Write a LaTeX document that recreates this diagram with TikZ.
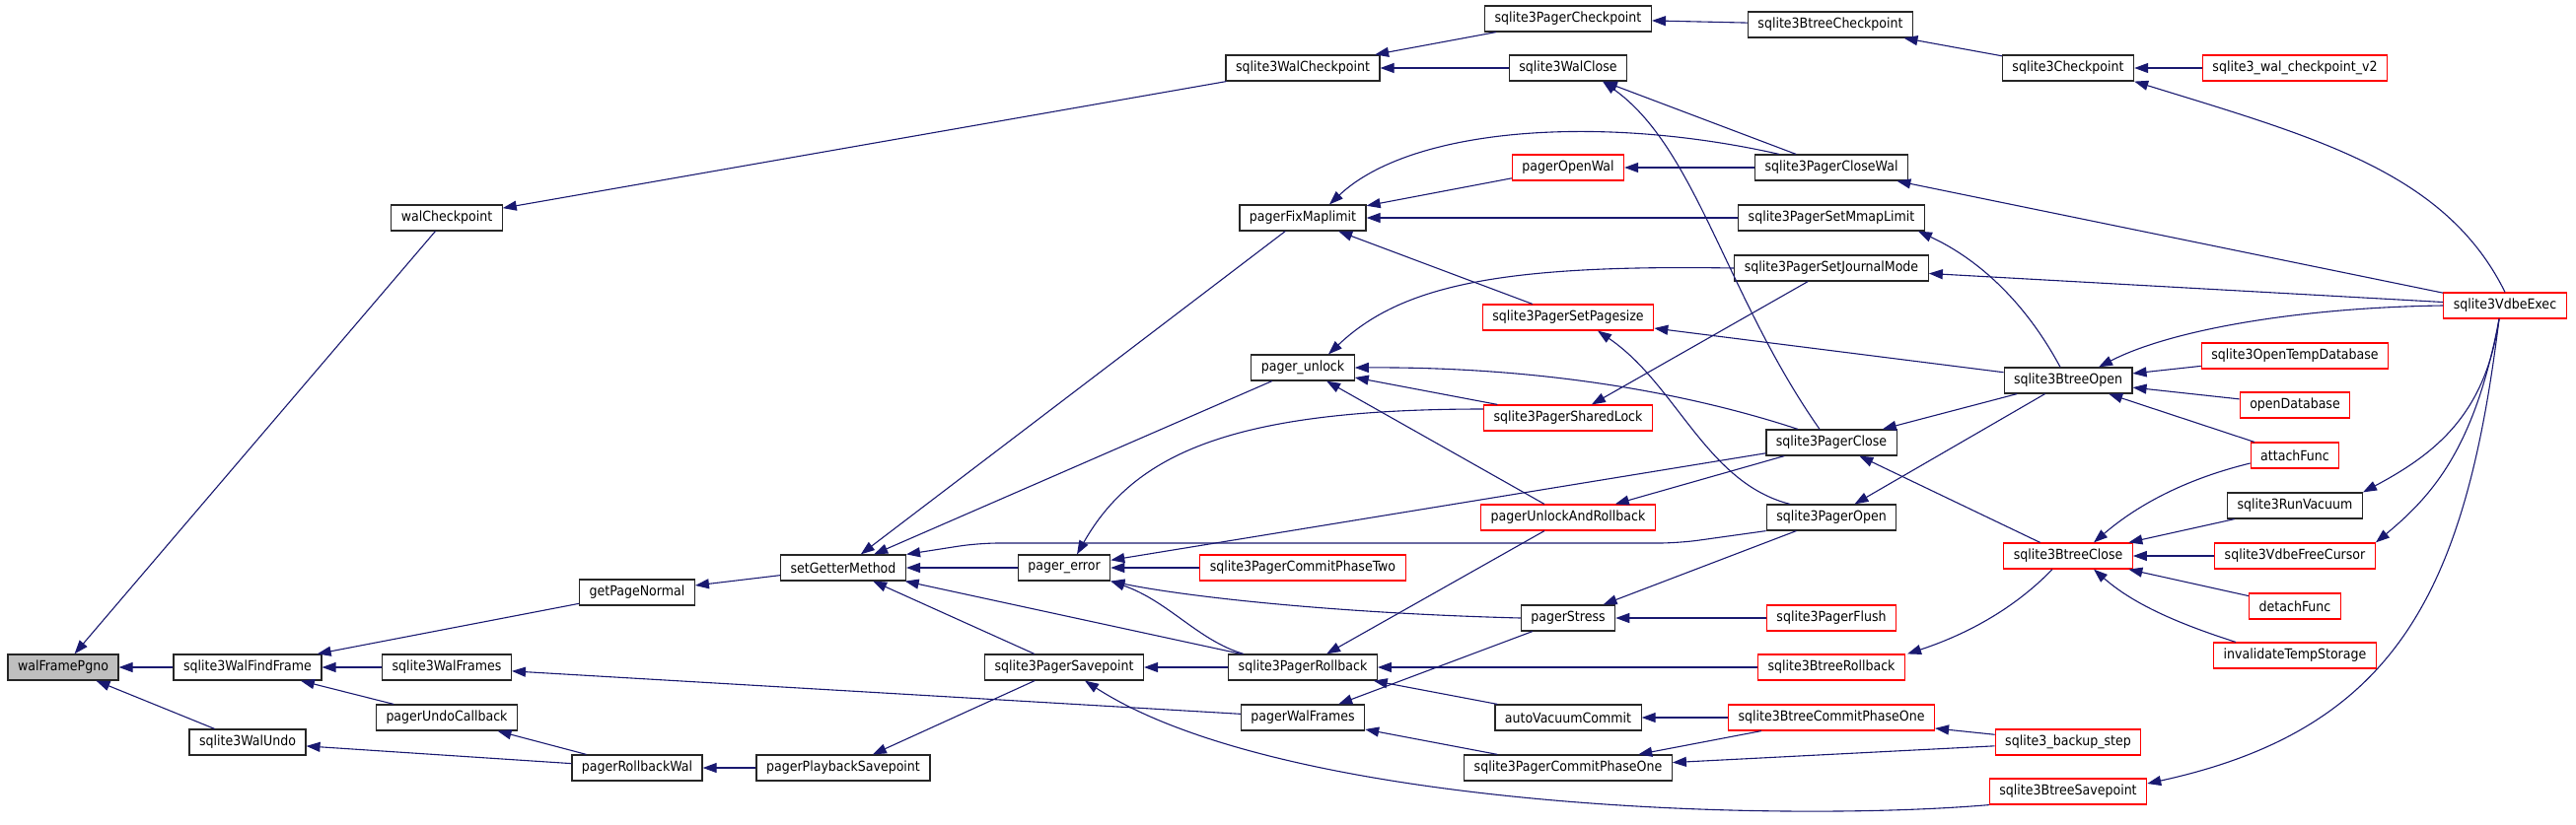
\documentclass[tikz,border=0pt]{standalone}
\usepackage{fontspec}
\setmainfont{DejaVu Sans Condensed}
\usetikzlibrary{arrows.meta}
\definecolor{edgeblue}{HTML}{191970}
\definecolor{cutred}{HTML}{FF0000}
\definecolor{focusgray}{HTML}{BFBFBF}
\newcommand{\fnfont}{\fontsize{14}{16}\selectfont}

\begin{document}
\begin{tikzpicture}[x=1pt, y=-1pt,
  fn/.style={draw=black!85, line width=1.2pt, fill=white, minimum height=26pt,
             inner xsep=10pt, inner ysep=0pt, font=\fnfont},
  cut/.style={fn, draw=cutred},
  call/.style={draw=edgeblue, line width=1.1pt, -{Triangle[length=14pt,width=10pt]}}]
\useasboundingbox (0,0) rectangle (2612,836);

% functions, column by column
\node[fn, fill=focusgray] (wfp) at (64,677) {walFramePgno};
\node[fn] (wff) at (251,677) {sqlite3WalFindFrame};
\node[fn] (wun) at (251,753) {sqlite3WalUndo};
\node[fn] (wcp) at (453,221) {walCheckpoint};
\node[fn] (wfr) at (453,677) {sqlite3WalFrames};
\node[fn] (puc) at (453,728) {pagerUndoCallback};
\node[fn] (gpn) at (646,601) {getPageNormal};
\node[fn] (prw) at (646,779) {pagerRollbackWal};
\node[fn] (sgm) at (855,576) {setGetterMethod};
\node[fn] (pps) at (855,779) {pagerPlaybackSavepoint};
\node[fn] (per) at (1079,576) {pager\_error};
\node[fn] (psv) at (1079,677) {sqlite3PagerSavepoint};
\node[fn] (swc) at (1321,69) {sqlite3WalCheckpoint};
\node[fn] (pfm) at (1321,221) {pagerFixMaplimit};
\node[fn] (pul) at (1321,373) {pager\_unlock};
\node[cut] (cp2) at (1321,576) {sqlite3PagerCommitPhaseTwo};
\node[fn] (prb) at (1321,677) {sqlite3PagerRollback};
\node[fn] (pwf) at (1321,728) {pagerWalFrames};
\node[fn] (pck) at (1590,19) {sqlite3PagerCheckpoint};
\node[fn] (wcl) at (1590,69) {sqlite3WalClose};
\node[cut] (pow) at (1590,170) {pagerOpenWal};
\node[cut] (sps) at (1590,322) {sqlite3PagerSetPagesize};
\node[cut] (psl) at (1590,424) {sqlite3PagerSharedLock};
\node[cut] (pur) at (1590,525) {pagerUnlockAndRollback};
\node[fn] (pst) at (1590,627) {pagerStress};
\node[fn] (avc) at (1590,728) {autoVacuumCommit};
\node[fn] (cp1) at (1590,779) {sqlite3PagerCommitPhaseOne};
\node[fn] (bck) at (1856,25) {sqlite3BtreeCheckpoint};
\node[fn] (pcw) at (1857,170) {sqlite3PagerCloseWal};
\node[fn] (sml) at (1857,221) {sqlite3PagerSetMmapLimit};
\node[fn] (sjm) at (1857,272) {sqlite3PagerSetJournalMode};
\node[fn] (pcl) at (1857,449) {sqlite3PagerClose};
\node[fn] (pop) at (1857,525) {sqlite3PagerOpen};
\node[cut] (pfl) at (1857,627) {sqlite3PagerFlush};
\node[cut] (brb) at (1857,677) {sqlite3BtreeRollback};
\node[cut] (bc1) at (1857,728) {sqlite3BtreeCommitPhaseOne};
\node[fn] (chk) at (2097,69) {sqlite3Checkpoint};
\node[fn] (bop) at (2097,386) {sqlite3BtreeOpen};
\node[cut] (bcl) at (2097,564) {sqlite3BtreeClose};
\node[cut] (bks) at (2097,753) {sqlite3\_backup\_step};
\node[cut] (bsp) at (2097,803) {sqlite3BtreeSavepoint};
\node[cut] (wv2) at (2327,69) {sqlite3\_wal\_checkpoint\_v2};
\node[cut] (otd) at (2327,361) {sqlite3OpenTempDatabase};
\node[cut] (odb) at (2327,411) {openDatabase};
\node[cut] (att) at (2327,462) {attachFunc};
\node[fn] (rva) at (2327,513) {sqlite3RunVacuum};
\node[cut] (vfc) at (2327,564) {sqlite3VdbeFreeCursor};
\node[cut] (dtf) at (2327,615) {detachFunc};
\node[cut] (its) at (2327,665) {invalidateTempStorage};
\node[cut] (vex) at (2540,310) {sqlite3VdbeExec};

% calls, caller to callee
\draw[call] (wff) -- (wfp);
\draw[call] (wcp) -- (wfp);
\draw[call] (wun) -- (wfp);
\draw[call] (gpn) -- (wff);
\draw[call] (wfr) -- (wff);
\draw[call] (puc) -- (wff);
\draw[call] (swc) -- (wcp);
\draw[call] (pck) -- (swc);
\draw[call] (wcl) -- (swc);
\draw[call] (bck) -- (pck);
\draw[call] (chk) -- (bck);
\draw[call] (wv2) -- (chk);
\draw[call] (vex.north) .. controls (2480,175) and (2350,140) .. (chk.south east);
\draw[call] (pcw) -- (wcl);
\draw[call] ([xshift=-12pt]pcl.north) .. controls (1750,300) and (1720,150) .. ([xshift=35pt]wcl.south);
\draw[call] ([xshift=-53pt]pcw.north) .. controls (1620,115) and (1430,130) .. ([xshift=27pt]pfm.north);
\draw[call] (pow) -- (pfm);
\draw[call] (sml) -- (pfm);
\draw[call] (sps) -- (pfm);
\draw[call] (pcw) -- (pow);
\draw[call] (vex) -- (pcw);
\draw[call] ([xshift=-8pt]bop.north) .. controls (2050,300) and (2000,260) .. ([xshift=88pt]sml.south);
\draw[call] (vex) -- (sjm);
\draw[call] (sjm) -- (psl);
\draw[call] (sjm.west) .. controls (1520,268) and (1420,290) .. ([xshift=26pt]pul.north);
\draw[call] (bop) -- (sps);
\draw[call] ([xshift=-42pt]pop.north) .. controls (1730,490) and (1700,390) .. ([xshift=30pt]sps.south);
\draw[call] (otd) -- (bop);
\draw[call] (odb) -- (bop);
\draw[call] (att) -- (bop);
\draw[call] (vex.west) .. controls (2330,312) and (2200,335) .. ([xshift=31pt]bop.north);
\draw[call] (pur) -- (pul);
\draw[call] (psl) -- (pul);
\draw[call] ([xshift=-34pt]pcl.north) .. controls (1700,395) and (1550,372) .. (pul.east);
\draw[call] (pfm) -- (sgm);
\draw[call] (pul) -- (sgm);
\draw[call, rounded corners=20pt] (pop.south west) -- (1702,551) -- (992,551) -- (sgm.north east);
\draw[call] (per) -- (sgm);
\draw[call] (prb) -- (sgm);
\draw[call] (psv) -- (sgm);
\draw[call] (sgm) -- (gpn);
\draw[call] ([yshift=9pt]psl.west) .. controls (1250,415) and (1150,460) .. ([xshift=13pt]per.north);
\draw[call] (pcl) -- (per);
\draw[call] (cp2) -- (per);
\draw[call] (pst.west) .. controls (1350,622) and (1200,605) .. (per.south east);
\draw[call] ([xshift=-60pt]prb.north) .. controls (1215,650) and (1185,610) .. (per.south east);
\draw[call] (pcl) -- (pur);
\draw[call] (pur) -- (prb);
\draw[call] (brb) -- (prb);
\draw[call] (avc) -- (prb);
\draw[call] (prb) -- (psv);
\draw[call] (bsp.south west) .. controls (1800,835) and (1300,820) .. ([xshift=21pt]psv.south);
\draw[call] (psv) -- (pps);
\draw[call] (pps) -- (prw);
\draw[call] (prw) -- (puc);
\draw[call] (prw) -- (wun);
\draw[call] (pwf) -- (wfr);
\draw[call] (pst) -- (pwf);
\draw[call] (cp1) -- (pwf);
\draw[call] (bc1) -- (avc);
\draw[call] (bc1) -- (cp1);
\draw[call] (bks) -- (cp1);
\draw[call] (bks) -- (bc1);
\draw[call] (pop) -- (pst);
\draw[call] (pfl) -- (pst);
\draw[call] (bop) -- (pcl);
\draw[call] (bcl) -- (pcl);
\draw[call] (bop) -- (pop);
\draw[call] ([yshift=-8pt]att.west) .. controls (2220,485) and (2170,510) .. ([xshift=26pt]bcl.north);
\draw[call] (rva) -- (bcl);
\draw[call] (vfc) -- (bcl);
\draw[call] (dtf) -- (bcl);
\draw[call] ([xshift=-60pt]its.north) .. controls (2200,630) and (2160,610) .. ([xshift=26pt]bcl.south);
\draw[call] ([xshift=-16pt]bcl.south) .. controls (2040,620) and (1990,645) .. ([xshift=77pt]brb.north);
\draw[call] ([xshift=-6pt]vex.south) .. controls (2520,420) and (2470,460) .. (rva.north east);
\draw[call] ([xshift=-6pt]vex.south) .. controls (2510,450) and (2470,500) .. (vfc.north east);
\draw[call] ([xshift=-6pt]vex.south) .. controls (2500,600) and (2430,740) .. ([yshift=8pt]bsp.east);
\end{tikzpicture}
\end{document}
